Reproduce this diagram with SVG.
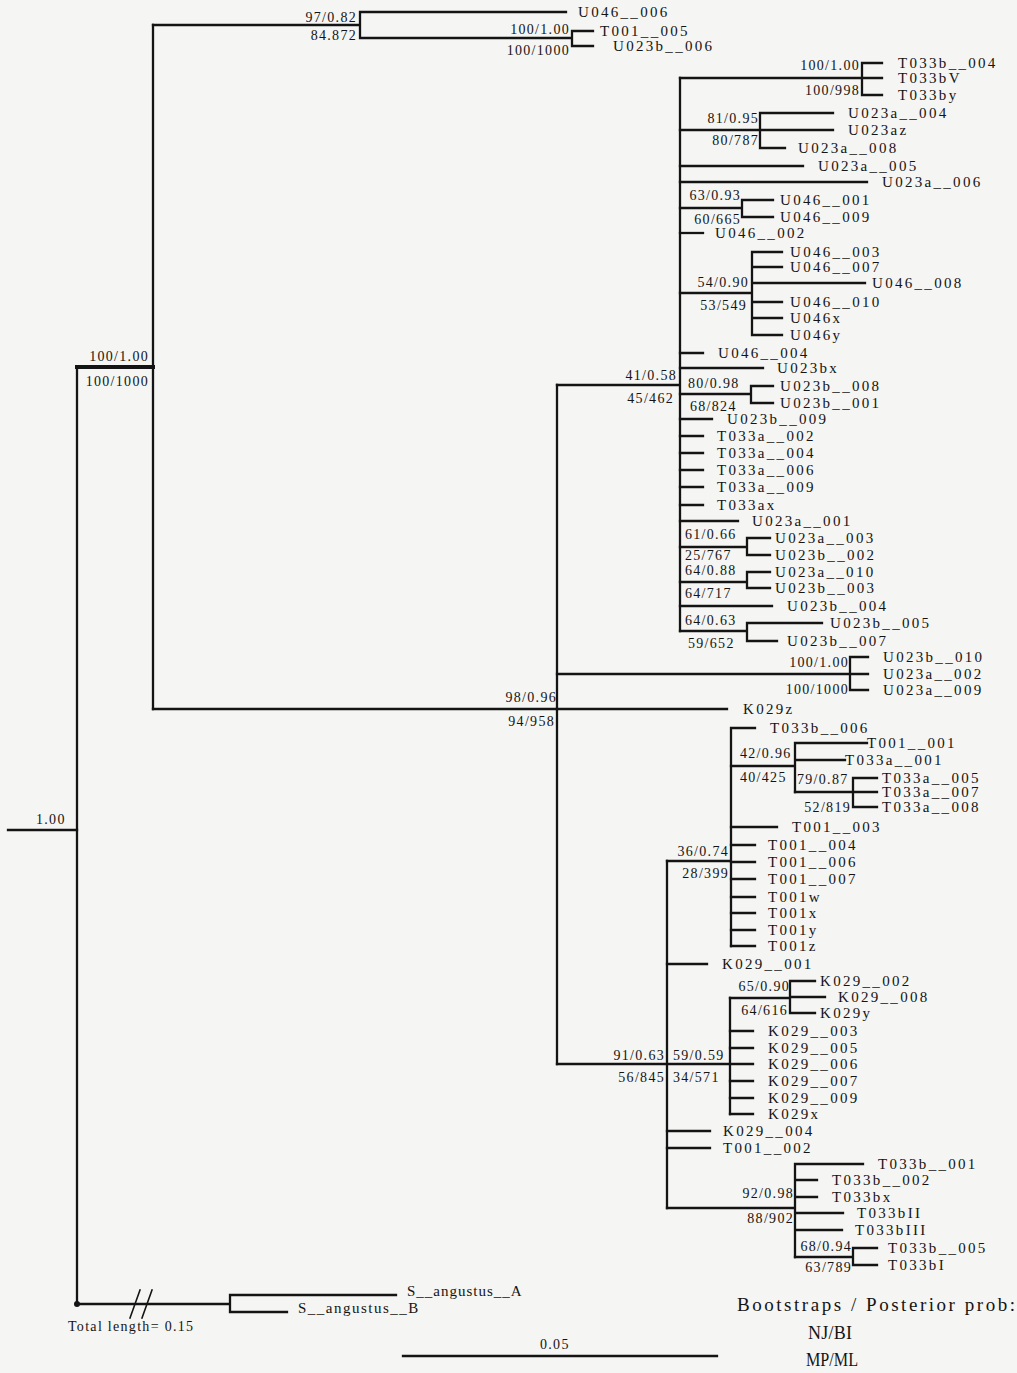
<svg xmlns="http://www.w3.org/2000/svg" width="1017" height="1373" viewBox="0 0 1017 1373">
<style>
.br{fill:none;stroke:#141414;stroke-width:2.3;stroke-linecap:square}
.tx{font-family:"Liberation Serif",serif;font-size:15px;letter-spacing:2.3px;fill:#141414}
.sp{font-family:"Liberation Serif",serif;font-size:14px;letter-spacing:1.3px;fill:#141414}
.spr{font-family:"Liberation Serif",serif;font-size:14px;letter-spacing:1.3px;fill:#141414;text-anchor:end}
.lg{font-family:"Liberation Serif",serif;font-size:19px;fill:#141414}
.lg2{font-family:"Liberation Serif",serif;font-size:18px;fill:#141414}
</style>
<rect width="1017" height="1373" fill="#f5f5f3"/>
<g id="connectors">
<path class="br" d="M8 830H77"/>
<path class="br" d="M77 367V1304"/>
<path class="br" d="M77 367H153" style="stroke-width:4"/>
<path class="br" d="M153 25V709"/>
<path class="br" d="M153 25H360M360 12V38M360 12H566M360 38H572M572 31V46M572 31H593M572 46H593"/>
<path class="br" d="M153 709H557M557 385V1064"/>
<path class="br" d="M557 674H850M850 657V690M850 657H868M850 674H868M850 690H868"/>
<path class="br" d="M557 709H727"/>
<path class="br" d="M557 385H680M680 78V631"/>
<path class="br" d="M680 78H862M862 63V95M862 63H882M862 78H882M862 95H882"/>
<path class="br" d="M680 130H760M760 113V148M760 113H833M760 130H833M760 148H785"/>
<path class="br" d="M680 166H803M680 182H867"/>
<path class="br" d="M680 208H742M742 200V217M742 200H773M742 217H773"/>
<path class="br" d="M680 233H703"/>
<path class="br" d="M680 293H752M752 252V335M752 252H782M752 267H782M752 283H865M752 302H782M752 318H782M752 335H782"/>
<path class="br" d="M680 353H703M680 368H763"/>
<path class="br" d="M680 394H751M751 386V403M751 386H773M751 403H773"/>
<path class="br" d="M680 419H712M680 436H703M680 453H703M680 470H703M680 487H703M680 505H703M680 521H738"/>
<path class="br" d="M680 547H747M747 538V555M747 538H770M747 555H770"/>
<path class="br" d="M680 582H747M747 572V588M747 572H770M747 588H770"/>
<path class="br" d="M680 606H772"/>
<path class="br" d="M680 631H747M747 623V641M747 623H822M747 641H777"/>
<path class="br" d="M557 1064H667M667 861V1208"/>
<path class="br" d="M667 861H731M731 728V946M731 728H755"/>
<path class="br" d="M731 766H795M795 743V792M795 743H867M795 760H845"/>
<path class="br" d="M795 792H853M853 778V807M853 778H877M853 792H877M853 807H877"/>
<path class="br" d="M731 827H777M731 845H755M731 862H755M731 879H755M731 897H755M731 913H755M731 930H755M731 946H755"/>
<path class="br" d="M667 964H707"/>
<path class="br" d="M667 1064H730M730 998V1114"/>
<path class="br" d="M730 998H790M790 981V1013M790 981H815M790 997H825M790 1013H815"/>
<path class="br" d="M730 1031H753M730 1048H753M730 1064H753M730 1081H753M730 1098H753M730 1114H753"/>
<path class="br" d="M667 1131H710M667 1148H710"/>
<path class="br" d="M667 1208H795M795 1164V1257M795 1164H863M795 1180H817M795 1197H817M795 1213H843M795 1230H842"/>
<path class="br" d="M795 1257H853M853 1248V1265M853 1248H877M853 1265H877"/>
<path class="br" d="M77 1304H230M230 1295V1312M230 1295H396M230 1312H287"/>
<path class="br" d="M130 1318L140 1290M142 1318L152 1290" style="stroke-width:1.6"/>
<circle cx="77" cy="1304" r="3" fill="#141414"/>
<path class="br" d="M403 1356H717"/>
</g>
<g id="support">
<text class="sp" x="36" y="824">1.00</text>
<text class="spr" x="149" y="361">100/1.00</text>
<text class="spr" x="149" y="386">100/1000</text>
<text class="spr" x="357" y="22">97/0.82</text>
<text class="spr" x="357" y="40">84.872</text>
<text class="spr" x="570" y="34">100/1.00</text>
<text class="spr" x="570" y="55">100/1000</text>
<text class="spr" x="557" y="702">98/0.96</text>
<text class="spr" x="555" y="726">94/958</text>
<text class="spr" x="849" y="667">100/1.00</text>
<text class="spr" x="849" y="694">100/1000</text>
<text class="spr" x="677" y="380">41/0.58</text>
<text class="spr" x="674" y="403">45/462</text>
<text class="spr" x="860" y="70">100/1.00</text>
<text class="spr" x="860" y="95">100/998</text>
<text class="spr" x="759" y="123">81/0.95</text>
<text class="spr" x="759" y="145">80/787</text>
<text class="spr" x="741" y="200">63/0.93</text>
<text class="spr" x="741" y="224">60/665</text>
<text class="spr" x="749" y="287">54/0.90</text>
<text class="spr" x="747" y="310">53/549</text>
<text class="sp" x="688" y="388">80/0.98</text>
<text class="sp" x="690" y="411">68/824</text>
<text class="sp" x="685" y="539">61/0.66</text>
<text class="sp" x="685" y="560">25/767</text>
<text class="sp" x="685" y="575">64/0.88</text>
<text class="sp" x="685" y="598">64/717</text>
<text class="sp" x="685" y="625">64/0.63</text>
<text class="sp" x="688" y="648">59/652</text>
<text class="spr" x="665" y="1060">91/0.63</text>
<text class="spr" x="665" y="1082">56/845</text>
<text class="spr" x="729" y="856">36/0.74</text>
<text class="spr" x="729" y="878">28/399</text>
<text class="sp" x="740" y="758">42/0.96</text>
<text class="sp" x="740" y="782">40/425</text>
<text class="sp" x="797" y="784">79/0.87</text>
<text class="spr" x="851" y="812">52/819</text>
<text class="sp" x="673" y="1060">59/0.59</text>
<text class="sp" x="673" y="1082">34/571</text>
<text class="spr" x="790" y="991">65/0.90</text>
<text class="spr" x="788" y="1015">64/616</text>
<text class="spr" x="794" y="1198">92/0.98</text>
<text class="spr" x="794" y="1223">88/902</text>
<text class="spr" x="852" y="1251">68/0.94</text>
<text class="spr" x="852" y="1272">63/789</text>
</g>
<g id="taxa">
<g id="U046_006"><text class="tx" x="578" y="17">U046__006</text></g>
<g id="T001_005"><text class="tx" x="600" y="36">T001__005</text></g>
<g id="U023b_006"><text class="tx" x="613" y="51">U023b__006</text></g>
<g id="T033b_004"><text class="tx" x="898" y="68">T033b__004</text></g>
<g id="T033bV"><text class="tx" x="898" y="83">T033bV</text></g>
<g id="T033by"><text class="tx" x="898" y="100">T033by</text></g>
<g id="U023a_004"><text class="tx" x="848" y="118">U023a__004</text></g>
<g id="U023az"><text class="tx" x="848" y="135">U023az</text></g>
<g id="U023a_008"><text class="tx" x="798" y="153">U023a__008</text></g>
<g id="U023a_005"><text class="tx" x="818" y="171">U023a__005</text></g>
<g id="U023a_006"><text class="tx" x="882" y="187">U023a__006</text></g>
<g id="U046_001"><text class="tx" x="780" y="205">U046__001</text></g>
<g id="U046_009"><text class="tx" x="780" y="222">U046__009</text></g>
<g id="U046_002"><text class="tx" x="715" y="238">U046__002</text></g>
<g id="U046_003"><text class="tx" x="790" y="257">U046__003</text></g>
<g id="U046_007"><text class="tx" x="790" y="272">U046__007</text></g>
<g id="U046_008"><text class="tx" x="872" y="288">U046__008</text></g>
<g id="U046_010"><text class="tx" x="790" y="307">U046__010</text></g>
<g id="U046x"><text class="tx" x="790" y="323">U046x</text></g>
<g id="U046y"><text class="tx" x="790" y="340">U046y</text></g>
<g id="U046_004"><text class="tx" x="718" y="358">U046__004</text></g>
<g id="U023bx"><text class="tx" x="777" y="373">U023bx</text></g>
<g id="U023b_008"><text class="tx" x="780" y="391">U023b__008</text></g>
<g id="U023b_001"><text class="tx" x="780" y="408">U023b__001</text></g>
<g id="U023b_009"><text class="tx" x="727" y="424">U023b__009</text></g>
<g id="T033a_002"><text class="tx" x="717" y="441">T033a__002</text></g>
<g id="T033a_004"><text class="tx" x="717" y="458">T033a__004</text></g>
<g id="T033a_006"><text class="tx" x="717" y="475">T033a__006</text></g>
<g id="T033a_009"><text class="tx" x="717" y="492">T033a__009</text></g>
<g id="T033ax"><text class="tx" x="717" y="510">T033ax</text></g>
<g id="U023a_001"><text class="tx" x="752" y="526">U023a__001</text></g>
<g id="U023a_003"><text class="tx" x="775" y="543">U023a__003</text></g>
<g id="U023b_002"><text class="tx" x="775" y="560">U023b__002</text></g>
<g id="U023a_010"><text class="tx" x="775" y="577">U023a__010</text></g>
<g id="U023b_003"><text class="tx" x="775" y="593">U023b__003</text></g>
<g id="U023b_004"><text class="tx" x="787" y="611">U023b__004</text></g>
<g id="U023b_005"><text class="tx" x="830" y="628">U023b__005</text></g>
<g id="U023b_007"><text class="tx" x="787" y="646">U023b__007</text></g>
<g id="U023b_010"><text class="tx" x="883" y="662">U023b__010</text></g>
<g id="U023a_002"><text class="tx" x="883" y="679">U023a__002</text></g>
<g id="U023a_009"><text class="tx" x="883" y="695">U023a__009</text></g>
<g id="K029z"><text class="tx" x="743" y="714">K029z</text></g>
<g id="T033b_006"><text class="tx" x="770" y="733">T033b__006</text></g>
<g id="T001_001"><text class="tx" x="867" y="748">T001__001</text></g>
<g id="T033a_001"><text class="tx" x="845" y="765">T033a__001</text></g>
<g id="T033a_005"><text class="tx" x="882" y="783">T033a__005</text></g>
<g id="T033a_007"><text class="tx" x="882" y="797">T033a__007</text></g>
<g id="T033a_008"><text class="tx" x="882" y="812">T033a__008</text></g>
<g id="T001_003"><text class="tx" x="792" y="832">T001__003</text></g>
<g id="T001_004"><text class="tx" x="768" y="850">T001__004</text></g>
<g id="T001_006"><text class="tx" x="768" y="867">T001__006</text></g>
<g id="T001_007"><text class="tx" x="768" y="884">T001__007</text></g>
<g id="T001w"><text class="tx" x="768" y="902">T001w</text></g>
<g id="T001x"><text class="tx" x="768" y="918">T001x</text></g>
<g id="T001y"><text class="tx" x="768" y="935">T001y</text></g>
<g id="T001z"><text class="tx" x="768" y="951">T001z</text></g>
<g id="K029_001"><text class="tx" x="722" y="969">K029__001</text></g>
<g id="K029_002"><text class="tx" x="820" y="986">K029__002</text></g>
<g id="K029_008"><text class="tx" x="838" y="1002">K029__008</text></g>
<g id="K029y"><text class="tx" x="820" y="1018">K029y</text></g>
<g id="K029_003"><text class="tx" x="768" y="1036">K029__003</text></g>
<g id="K029_005"><text class="tx" x="768" y="1053">K029__005</text></g>
<g id="K029_006"><text class="tx" x="768" y="1069">K029__006</text></g>
<g id="K029_007"><text class="tx" x="768" y="1086">K029__007</text></g>
<g id="K029_009"><text class="tx" x="768" y="1103">K029__009</text></g>
<g id="K029x"><text class="tx" x="768" y="1119">K029x</text></g>
<g id="K029_004"><text class="tx" x="723" y="1136">K029__004</text></g>
<g id="T001_002"><text class="tx" x="723" y="1153">T001__002</text></g>
<g id="T033b_001"><text class="tx" x="878" y="1169">T033b__001</text></g>
<g id="T033b_002"><text class="tx" x="832" y="1185">T033b__002</text></g>
<g id="T033bx"><text class="tx" x="832" y="1202">T033bx</text></g>
<g id="T033bII"><text class="tx" x="857" y="1218">T033bII</text></g>
<g id="T033bIII"><text class="tx" x="855" y="1235">T033bIII</text></g>
<g id="T033b_005"><text class="tx" x="888" y="1253">T033b__005</text></g>
<g id="T033bI"><text class="tx" x="888" y="1270">T033bI</text></g>
<g id="S_angustus_A"><text class="tx" x="407" y="1296" style="letter-spacing:1px">S__angustus__A</text></g>
<g id="S_angustus_B"><text class="tx" x="298" y="1313" style="letter-spacing:1.5px">S__angustus__B</text></g>
</g>
<g id="legend">
<text class="sp" x="68" y="1331">Total length= 0.15</text>
<text class="sp" x="540" y="1349">0.05</text>
<text class="lg" x="737" y="1311" textLength="278" lengthAdjust="spacing">Bootstraps / Posterior prob:</text>
<text class="lg2" x="808" y="1339" textLength="44" lengthAdjust="spacing">NJ/BI</text>
<text class="lg2" x="806" y="1366" textLength="52" lengthAdjust="spacingAndGlyphs">MP/ML</text>
</g>
</svg>
